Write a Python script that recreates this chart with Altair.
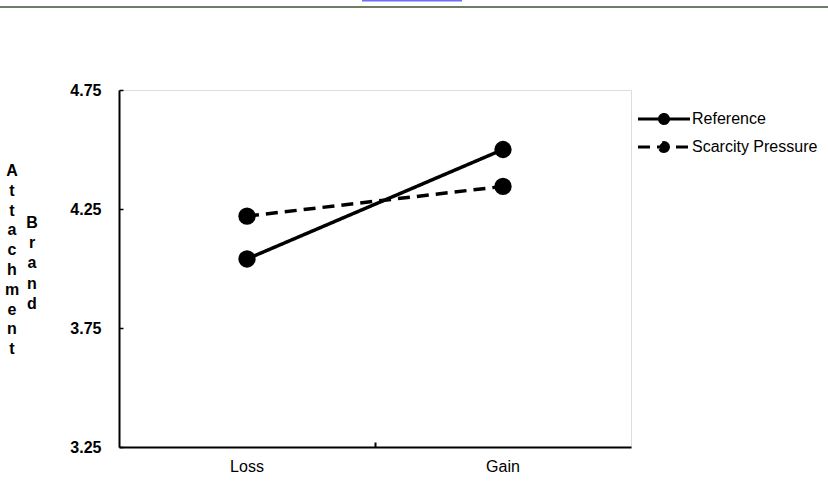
import altair as alt
import pandas as pd

categories = ["Loss", "Gain"]
series = ["Reference", "Scarcity Pressure"]
reference_vals = [4.04, 4.50]
scarcity_vals = [4.22, 4.345]
y_ticks = [3.25, 3.75, 4.25, 4.75]
title_words = ["Attachment", "Brand"]

rows = []
for s, vals in zip(series, [reference_vals, scarcity_vals]):
    for c, v in zip(categories, vals):
        rows.append({"cond": c, "series": s, "value": v})
df = pd.DataFrame(rows)

FONT = "Liberation Sans"
W, H = 512, 357

xscale = alt.Scale(type="band", domain=categories, paddingInner=0, paddingOuter=0)
yscale = alt.Scale(domain=[3.25, 4.75], nice=False, zero=False)

# symbol drawn in units of sqrt(symbolSize)/2 = 5 px
legend_path = ("M-5.2,0L5.2,0M0.9,0A0.9,0.9 0 1,1 -0.9,0"
               "A0.9,0.9 0 1,1 0.9,0Z")

lines = alt.Chart(df).mark_line(color="black", strokeWidth=3.5).encode(
    x=alt.X("cond:N", sort=categories, scale=xscale,
            axis=alt.Axis(title=None, labelAngle=0, labelFontSize=16, tickSize=0,
                          labelPadding=11, domainColor="black", domainWidth=2,
                          labelColor="black", labelFont=FONT)),
    y=alt.Y("value:Q", scale=yscale,
            axis=alt.Axis(title=None, values=y_ticks, format=".2f", tickSize=0,
                          labelPadding=18, labelFontSize=16, labelFontWeight="bold",
                          labelColor="black", labelFont=FONT, domainColor="black",
                          domainWidth=2, grid=False)),
    strokeDash=alt.StrokeDash(
        "series:N",
        scale=alt.Scale(domain=series, range=[[1, 0], [12, 7]]),
        legend=alt.Legend(orient="none", legendX=537, legendY=21, title=None,
                          symbolType=legend_path, symbolSize=100,
                          symbolStrokeWidth=3, symbolStrokeColor="black",
                          symbolFillColor="black", labelFontSize=16,
                          labelOffset=20, padding=0, rowPadding=6,
                          labelColor="black", labelFont=FONT)),
)

points = alt.Chart(df).mark_point(filled=True, size=300, color="black", opacity=1).encode(
    x=alt.X("cond:N", sort=categories, scale=xscale,
            axis=alt.Axis(title=None, orient="top", offset=-H, values=["Loss"],
                          bandPosition=1, labels=False, domain=False, tickSize=5,
                          tickColor="black", tickWidth=2)),
    y=alt.Y("value:Q", scale=yscale,
            axis=alt.Axis(title=None, orient="right", offset=-W, values=y_ticks,
                          labels=False, domain=False, tickSize=4, tickColor="black",
                          tickWidth=1.5, grid=False)),
)

title_df = pd.DataFrame({"t": ["\n".join(w) for w in title_words]})
title_a = alt.Chart(title_df.iloc[[0]]).mark_text(
    lineBreak="\n", lineHeight=19.8, fontSize=16, fontWeight="bold", font=FONT,
    baseline="middle", align="center", color="black"
).encode(text="t:N", x=alt.value(-107), y=alt.value(81))
title_b = alt.Chart(title_df.iloc[[1]]).mark_text(
    lineBreak="\n", lineHeight=20.2, fontSize=16, fontWeight="bold", font=FONT,
    baseline="middle", align="center", color="black"
).encode(text="t:N", x=alt.value(-87), y=alt.value(133))

dummy = pd.DataFrame({"a": [0]})
top_line = alt.Chart(dummy).mark_rule(color="#6f7d64", strokeWidth=2).encode(
    x=alt.value(-119), x2=alt.value(709), y=alt.value(-83))
top_link = alt.Chart(dummy).mark_rule(color="#6f6fff", strokeWidth=2).encode(
    x=alt.value(362 - 119), x2=alt.value(462 - 119), y=alt.value(-89.5))

chart = alt.layer(lines, points, title_a, title_b, top_line, top_link).resolve_axis(
    x="independent", y="independent"
).properties(
    width=W, height=H,
    autosize=alt.AutoSizeParams(type="none"),
    padding={"left": 119, "top": 90, "right": 828 - 119 - W, "bottom": 482 - 90 - H},
    background="white",
).configure_view(stroke="#a0a0a0", strokeWidth=2).configure(font=FONT)

chart.save("out.html", embed_options={"renderer": "svg", "actions": False})
